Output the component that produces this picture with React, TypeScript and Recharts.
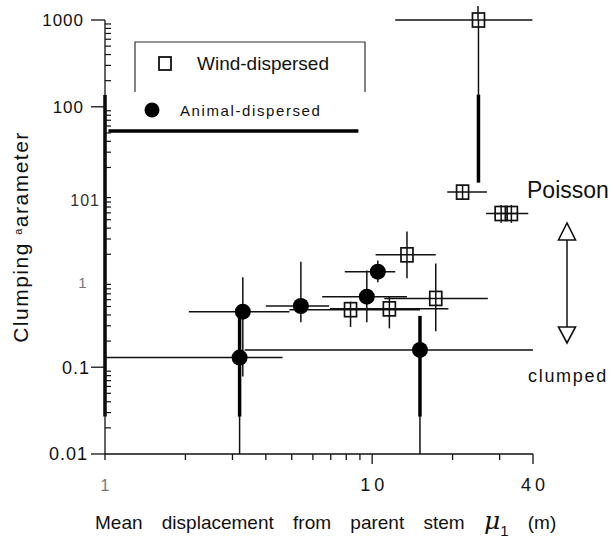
import React from "react";
import {
  ErrorBar,
  ReferenceLine,
  Scatter,
  ScatterChart,
  XAxis,
  YAxis,
} from "recharts";

const WIND = "Wind-dispersed";
const ANIMAL = "Animal-dispersed";

// wind-dispersed species (open squares): centre, then x and y error ranges
const windX = [25.0, 21.8, 30.4, 33.2, 13.5, 17.3, 11.6, 8.3];
const windY = [1000, 10.4, 5.9, 5.9, 1.97, 0.62, 0.47, 0.46];
const windXRange = [
  [12.2, 39.8], [19.1, 26.9], [26.7, 35], [29, 38.4],
  [10.3, 17.3], [11.1, 27.1], [6.95, 19.3], [4.9, 15.1],
];
const windYRange = [
  [13.4, 1000], [8.5, 12.3], [4.6, 7.4], [4.6, 7.4],
  [1.06, 3.66], [0.26, 1.57], [0.28, 0.65], [0.29, 0.57],
];

// animal-dispersed species (filled circles)
const animalX = [3.28, 3.19, 5.41, 9.55, 10.5, 15.1];
const animalY = [0.436, 0.129, 0.507, 0.649, 1.26, 0.158];
const animalXRange = [
  [2.06, 4.9], [1.01, 4.62], [4.0, 6.9], [6.5, 13.5], [7.9, 12.2], [3.33, 40],
];
const animalYRange = [
  [0.078, 1.09], [0.01, 0.38], [0.33, 1.64], [0.33, 1.3], [0.95, 1.69], [0.01, 0.39],
];

// heavy strokes left over from the scanned original (data units)
const heavyX = [[25.0, 25.0], [3.19, 3.19], [15.1, 15.1], [1, 1], [1.03, 8.88]];
const heavyY = [[138, 13.4], [0.38, 0.027], [0.39, 0.027], [137, 0.027], [52.6, 52.6]];

// axes
const xTicks = [1, 2, 3, 4, 5, 6, 7, 8, 9, 10, 20, 30, 40];
const xTickLabels: Record<number, string> = { 1: "1", 10: "10", 40: "40" };
const yMajor = [0.01, 0.1, 1, 10, 100, 1000];
const yTickLabels = ["0.01", "0.1", "1", "101", "100", "1000"];
const yMinor = [0.01, 0.1, 1, 10, 100].flatMap((d) =>
  [2, 3, 4, 5, 6, 7, 8, 9].map((k) => +(k * d).toPrecision(3))
);
const yTicks = [...yMajor, ...yMinor].sort((a, b) => a - b);

const build = (xs: number[], ys: number[], xr: number[][], yr: number[][]) =>
  xs.map((x, i) => ({
    x,
    y: ys[i],
    xe: [x - xr[i][0], xr[i][1] - x],
    ye: [ys[i] - yr[i][0], yr[i][1] - ys[i]],
  }));

const windData = build(windX, windY, windXRange, windYRange);
const animalData = build(animalX, animalY, animalXRange, animalYRange);

const FONT = "'Liberation Sans', Arial, Helvetica, sans-serif";
const INK = "#111";

const SquareShape = (p: any) => (
  <rect
    x={p.cx - 6}
    y={p.cy - 7}
    width={12}
    height={14}
    fill="none"
    stroke={INK}
    strokeWidth={1.7}
  />
);

const DotShape = (p: any) => <circle cx={p.cx} cy={p.cy} r={8} fill="#000" />;

// per-label tweaks so the tick texts sit where the scan has them
const yLabelStyle: Record<string, any> = {
  "1000": { dx: -21, dy: 6, anchor: "end", size: 17, color: INK, dash: true },
  "100": { dx: -21, dy: 6, anchor: "end", size: 17, color: INK, dash: true },
  "101": { dx: -5, dy: 12, anchor: "end", size: 16, color: "#333", dash: false },
  "1": { dx: -22, dy: 8, anchor: "middle", size: 15, color: "#777", dash: false },
  "0.1": { dx: -15, dy: 7, anchor: "end", size: 18, color: INK, dash: true },
  "0.01": { dx: -17, dy: 6, anchor: "end", size: 18, color: INK, dash: true },
};

const YTick = (props: any) => {
  const { x, y, payload } = props;
  const i = yMajor.indexOf(Number(payload.value));
  if (i < 0) {
    return (
      <g>
        <line x1={x} x2={x + 6} y1={y} y2={y} stroke={INK} strokeWidth={1.2} />
      </g>
    );
  }
  const lab = yTickLabels[i];
  const s = yLabelStyle[lab];
  return (
    <g>
      {s.dash && <line x1={x - 14} x2={x} y1={y} y2={y} stroke={INK} strokeWidth={1.3} />}
      <text
        x={x + s.dx}
        y={y + s.dy}
        textAnchor={s.anchor}
        fontSize={s.size}
        fill={s.color}
        fontFamily={FONT}
        letterSpacing={1}
      >
        {lab}
      </text>
    </g>
  );
};

const XTick = (props: any) => {
  const { x, y, payload } = props;
  const lab = xTickLabels[payload.value];
  const major = payload.value === 10 || payload.value === 40;
  return (
    <g>
      <line x1={x} x2={x} y1={y} y2={y + (major ? 10 : 6)} stroke={INK} strokeWidth={1.3} />
      {lab && (
        <text
          x={x + (lab === "1" ? 0 : 2)}
          y={y + 37}
          textAnchor="middle"
          fontSize={lab === "1" ? 16 : 18}
          fill={lab === "1" ? "#777" : INK}
          fontFamily={FONT}
          letterSpacing={lab === "1" ? 0 : 4}
        >
          {lab}
        </text>
      )}
    </g>
  );
};

const Annotations = () => (
  <svg
    width={610}
    height={541}
    style={{ position: "absolute", left: 0, top: 0, pointerEvents: "none" }}
    fontFamily={FONT}
  >
    {/* legend */}
    <path d="M135,92 L135,42 L365,42 L365,92" fill="none" stroke="#333" strokeWidth={1.2} />
    <rect x={159} y={57} width={12} height={13} fill="none" stroke={INK} strokeWidth={1.8} />
    <text x={197} y={70} fontSize={19} fill={INK}>{WIND}</text>
    <circle cx={152} cy={110} r={7.5} fill="#000" />
    <text x={180} y={115.5} fontSize={15} letterSpacing={1.6} fill={INK}>{ANIMAL}</text>

    {/* y axis title */}
    <text
      transform="translate(28,237) rotate(-90)"
      textAnchor="middle"
      fontSize={21}
      letterSpacing={1.5}
      fill={INK}
    >
      Clumping <tspan fontSize={11} dy={-6}>a</tspan>
      <tspan dy={6}>arameter</tspan>
    </text>

    {/* x axis title */}
    <text x={95} y={529} fontSize={19} wordSpacing={14} fill={INK}>
      Mean displacement from parent stem{" "}
      <tspan fontSize={25} fontStyle="italic" fontFamily="'DejaVu Serif', serif">μ</tspan>
      <tspan fontSize={15} dy={7}>1</tspan>
      <tspan dy={-7}> (m)</tspan>
    </text>

    {/* top of the 1000 point's error bar runs past the frame */}
    <line x1={478} x2={478} y1={6} y2={20} stroke={INK} strokeWidth={1.5} />

    {/* side notes */}
    <text x={527} y={198} fontSize={23} fill={INK}>Poisson</text>
    <text x={528} y={382} fontSize={18} letterSpacing={1.7} fill={INK}>clumped</text>
    <line x1={567} x2={567} y1={240} y2={327} stroke={INK} strokeWidth={1.5} />
    <polygon points="567,223 558.5,240 575.5,240" fill="#fff" stroke={INK} strokeWidth={1.6} />
    <polygon points="558.5,327 575.5,327 567,343" fill="#fff" stroke={INK} strokeWidth={1.6} />
  </svg>
);

export default function App() {
  return (
    <div
      style={{
        position: "absolute",
        left: 0,
        top: 0,
        width: 610,
        height: 541,
        background: "#fff",
        fontFamily: FONT,
      }}
    >
      <ScatterChart
        width={610}
        height={541}
        margin={{ top: 20, right: 77, bottom: 47, left: 9 }}
      >
        <XAxis
          dataKey="x"
          type="number"
          scale="log"
          domain={[1, 40]}
          ticks={xTicks}
          interval={0}
          height={40}
          tickSize={0}
          tickMargin={0}
          tickLine={false}
          tick={<XTick />}
          axisLine={{ stroke: INK, strokeWidth: 1.5 }}
        />
        <YAxis
          dataKey="y"
          type="number"
          scale="log"
          domain={[0.01, 1000]}
          ticks={yTicks}
          interval={0}
          width={96}
          tickSize={0}
          tickMargin={0}
          tickLine={false}
          tick={<YTick />}
          axisLine={{ stroke: INK, strokeWidth: 1.3 }}
        />
        <Scatter
          name={WIND}
          data={windData}
          shape={<SquareShape />}
          isAnimationActive={false}
        >
          <ErrorBar dataKey="xe" direction="x" width={0} stroke={INK} strokeWidth={1.5} isAnimationActive={false} />
          <ErrorBar dataKey="ye" direction="y" width={0} stroke={INK} strokeWidth={1.5} isAnimationActive={false} />
        </Scatter>
        <Scatter
          name={ANIMAL}
          data={animalData}
          shape={<DotShape />}
          isAnimationActive={false}
        >
          <ErrorBar dataKey="xe" direction="x" width={0} stroke={INK} strokeWidth={1.5} isAnimationActive={false} />
          <ErrorBar dataKey="ye" direction="y" width={0} stroke={INK} strokeWidth={1.5} isAnimationActive={false} />
        </Scatter>
        {heavyX.map((hx, i) => (
          <ReferenceLine
            key={i}
            segment={[
              { x: hx[0], y: heavyY[i][0] },
              { x: hx[1], y: heavyY[i][1] },
            ]}
            stroke="#000"
            strokeWidth={3.5}
          />
        ))}
      </ScatterChart>
      <Annotations />
    </div>
  );
}
